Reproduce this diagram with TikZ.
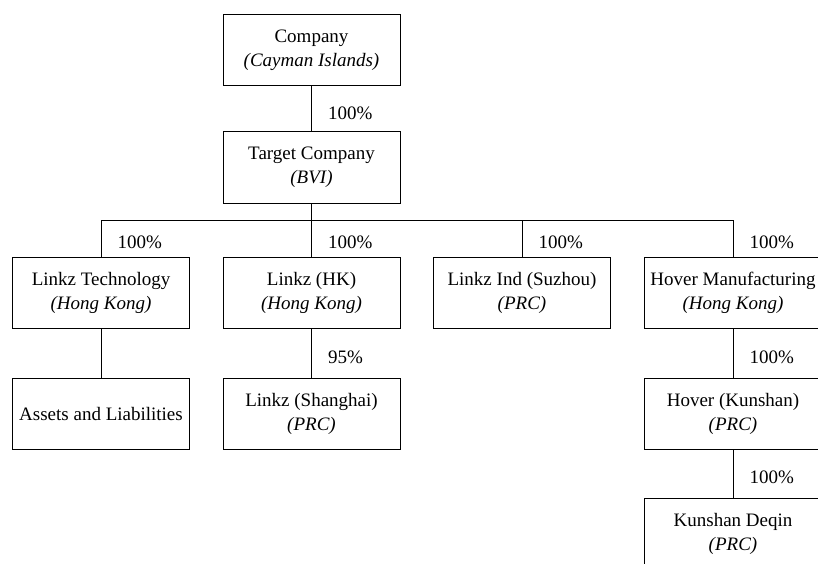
\documentclass[tikz,border=0pt]{standalone}
\usepackage{fontspec}
\setmainfont{Liberation Serif}
\tikzset{
	firm/.style={draw, minimum width=177pt, minimum height=71pt, align=center, inner sep=2pt, font=\fontsize{19}{24}\selectfont},
	pct/.style={anchor=west, xshift=16pt, yshift=-4pt, inner sep=0pt, font=\fontsize{19}{24}\selectfont}
}

\begin{document}
\begin{tikzpicture}[x=1pt, y=-1pt, line width=1pt]
			%%%%% START %%%%%
			\useasboundingbox (0, 0) rectangle (818, 564);
			
			\node[firm] (co) at (311.5, 50.5) {Company\\\textit{(Cayman Islands)}};
			\node[firm] (tgt) at (311.5, 167.5) {Target Company\\\textit{(BVI)}};
			
			\node[firm] (tech) at (101, 293) {Linkz Technology\\\textit{(Hong Kong)}};
			\node[firm] (hk) at (311.5, 293) {Linkz (HK)\\\textit{(Hong Kong)}};
			\node[firm] (ind) at (522, 293) {Linkz Ind (Suzhou)\\\textit{(PRC)}};
			\node[firm] (hover) at (733, 293) {Hover Manufacturing\\\textit{(Hong Kong)}};
			
			\node[firm] (assets) at (101, 413.5) {Assets and Liabilities};
			\node[firm] (sh) at (311.5, 413.5) {Linkz (Shanghai)\\\textit{(PRC)}};
			\node[firm] (ks) at (733, 413.5) {Hover (Kunshan)\\\textit{(PRC)}};
			
			\node[firm] (dq) at (733, 533.5) {Kunshan Deqin\\\textit{(PRC)}};
			
			\coordinate (bus) at (0, 220);
			
			\draw (co.south) -- node[pct] {100\%} (tgt.north);
			\draw (tgt.south) -- (tgt.south |- bus);
			\draw (tech.north |- bus) -- (hover.north |- bus);
			
			\draw (tech.north |- bus) -- node[pct] {100\%} (tech.north);
			\draw (hk.north |- bus) -- node[pct] {100\%} (hk.north);
			\draw (ind.north |- bus) -- node[pct] {100\%} (ind.north);
			\draw (hover.north |- bus) -- node[pct] {100\%} (hover.north);
			
			\draw (tech.south) -- (assets.north);
			\draw (hk.south) -- node[pct] {95\%} (sh.north);
			\draw (hover.south) -- node[pct] {100\%} (ks.north);
			\draw (ks.south) -- node[pct] {100\%} (dq.north);
			%%%%% END %%%%%
\end{tikzpicture}
\end{document}
